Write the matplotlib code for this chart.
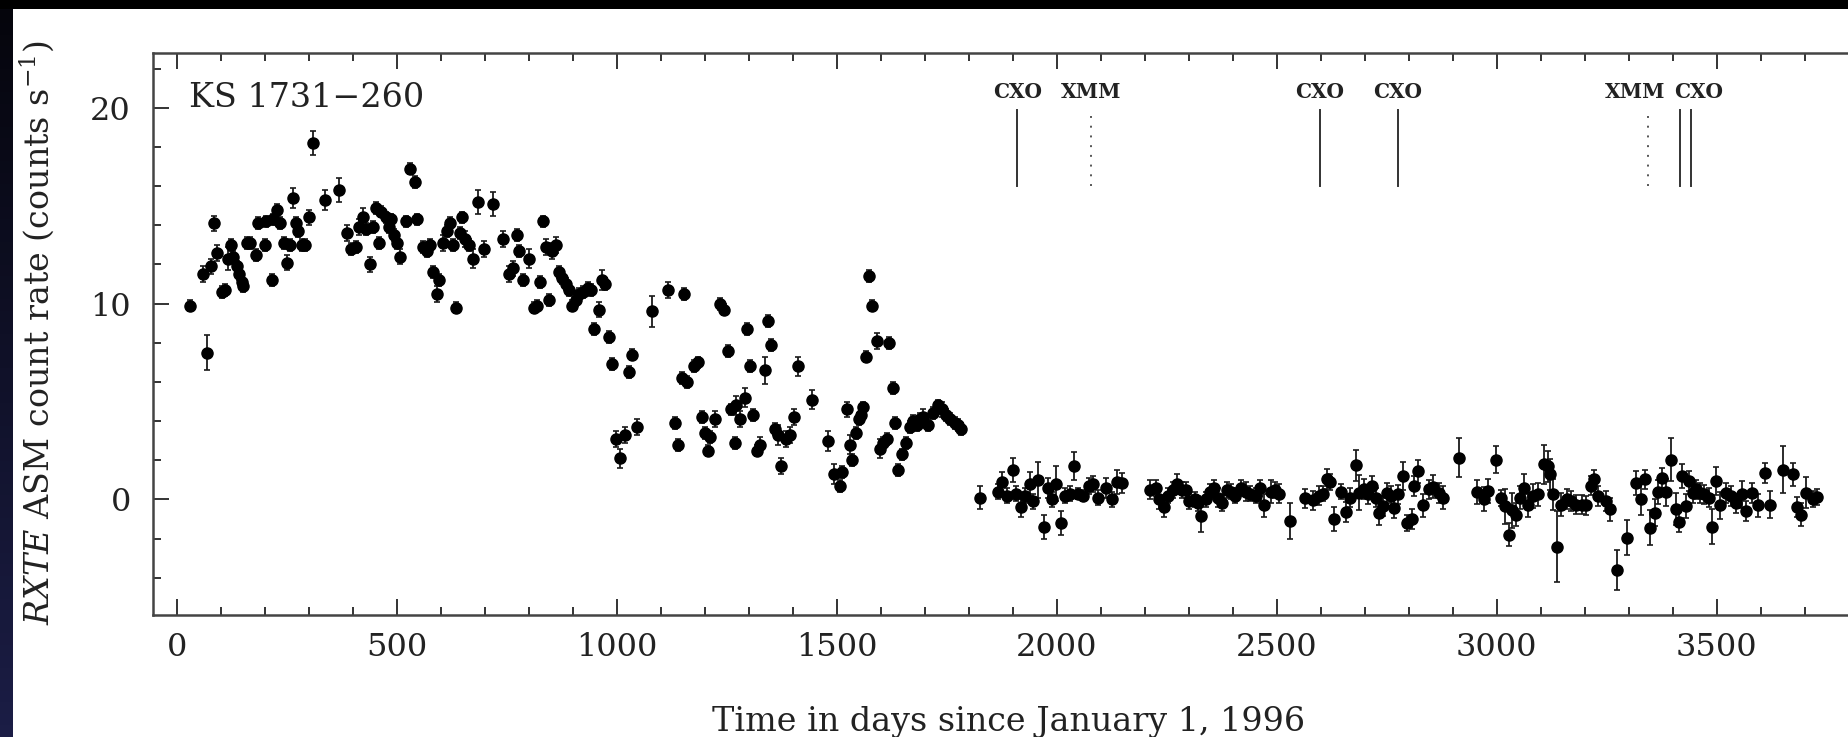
import numpy as np
import matplotlib
matplotlib.use("Agg")
import matplotlib.pyplot as plt
from matplotlib.ticker import MultipleLocator

plt.rcParams['font.family'] = ['DejaVu Serif']
plt.rcParams['mathtext.fontset'] = 'dejavuserif'

# outburst part of the light curve (days since 1996-01-01, counts/s, 1-sigma)
outburst_days = [28, 58, 67, 76, 84, 91, 101, 109, 116, 122, 128, 135, 141, 147, 150, 159, 165, 179, 184, 200,
                 203, 215, 218, 227, 234, 243, 249, 256, 264, 270, 275, 283, 290, 300, 309, 337, 367, 385, 396, 407,
                 413, 422, 430, 438, 445, 453, 459, 464, 474, 481, 487, 494, 500, 506, 521, 530, 540, 545, 559, 567,
                 575, 581, 590, 596, 604, 613, 621, 627, 634, 642, 648, 655, 664, 672, 683, 698, 719, 740, 755, 764,
                 772, 778, 787, 799, 812, 817, 825, 832, 838, 846, 853, 861, 868, 876, 884, 891, 897, 906, 914, 923,
                 933, 940, 948, 958, 965, 973, 982, 988, 997, 1007, 1017, 1027, 1033, 1045, 1079, 1116, 1131, 1139, 1147, 1152,
                 1160, 1175, 1184, 1193, 1201, 1207, 1212, 1222, 1233, 1243, 1252, 1258, 1268, 1271, 1280, 1290, 1296, 1303, 1309, 1318,
                 1326, 1336, 1343, 1351, 1358, 1367, 1373, 1384, 1394, 1403, 1411, 1444, 1479, 1494, 1508, 1512, 1522, 1530, 1535, 1543,
                 1549, 1555, 1560, 1565, 1573, 1579, 1590, 1598, 1605, 1613, 1618, 1627, 1633, 1639, 1649, 1656, 1666, 1673, 1681, 1689,
                 1696, 1707, 1719, 1729, 1738, 1749, 1758, 1768, 1776, 1782]
outburst_rate = [9.9, 11.5, 7.5, 11.9, 14.1, 12.6, 10.6, 10.7, 12.3, 13.0, 12.4, 11.9, 11.5, 11.1, 10.9, 13.1, 13.1, 12.5, 14.1, 13.0,
                 14.2, 11.2, 14.3, 14.8, 14.1, 13.1, 12.1, 13.0, 15.4, 14.1, 13.7, 13.0, 13.0, 14.4, 18.2, 15.3, 15.8, 13.6, 12.8, 12.9,
                 13.9, 14.4, 13.8, 12.0, 13.9, 14.9, 13.1, 14.7, 14.4, 13.9, 14.3, 13.5, 13.1, 12.4, 14.2, 16.9, 16.2, 14.3, 12.9, 12.7,
                 13.0, 11.6, 10.5, 11.2, 13.1, 13.7, 14.1, 13.0, 9.8, 13.6, 14.4, 13.3, 13.0, 12.3, 15.2, 12.8, 15.1, 13.3, 11.5, 11.8,
                 13.5, 12.7, 11.2, 12.3, 9.8, 9.9, 11.1, 14.2, 12.9, 10.2, 12.7, 13.0, 11.6, 11.3, 11.0, 10.7, 9.9, 10.2, 10.5, 10.6,
                 10.8, 10.7, 8.7, 9.7, 11.2, 11.0, 8.3, 6.9, 3.1, 2.1, 3.3, 6.5, 7.4, 3.7, 9.6, 10.7, 3.9, 2.8, 6.2, 10.5,
                 6.0, 6.8, 7.0, 4.2, 3.4, 2.5, 3.2, 4.1, 10.0, 9.7, 7.6, 4.6, 2.9, 4.8, 4.1, 5.2, 8.7, 6.8, 4.3, 2.5,
                 2.8, 6.6, 9.1, 7.9, 3.6, 3.3, 1.7, 3.1, 3.3, 4.2, 6.8, 5.1, 3.0, 1.3, 0.7, 1.4, 4.6, 2.8, 2.0, 3.4,
                 4.1, 4.3, 4.7, 7.3, 11.4, 9.9, 8.1, 2.6, 2.9, 3.1, 8.0, 5.7, 3.9, 1.5, 2.3, 2.9, 3.7, 4.0, 3.8, 4.1,
                 4.2, 3.8, 4.4, 4.8, 4.6, 4.3, 4.1, 3.9, 3.8, 3.6]
outburst_err = [0.3, 0.4, 0.9, 0.4, 0.4, 0.4, 0.3, 0.3, 0.6, 0.3, 0.3, 0.3, 0.3, 0.3, 0.3, 0.3, 0.3, 0.3, 0.3, 0.3,
                0.3, 0.3, 0.3, 0.3, 0.3, 0.3, 0.4, 0.3, 0.5, 0.3, 0.3, 0.3, 0.3, 0.4, 0.6, 0.5, 0.6, 0.4, 0.3, 0.3,
                0.4, 0.5, 0.3, 0.4, 0.3, 0.3, 0.3, 0.3, 0.3, 0.3, 0.3, 0.3, 0.3, 0.4, 0.3, 0.3, 0.3, 0.3, 0.3, 0.3,
                0.3, 0.3, 0.4, 0.3, 0.4, 0.3, 0.3, 0.3, 0.3, 0.3, 0.3, 0.4, 0.3, 0.5, 0.6, 0.4, 0.6, 0.4, 0.4, 0.4,
                0.3, 0.3, 0.3, 0.5, 0.3, 0.3, 0.3, 0.3, 0.4, 0.3, 0.4, 0.4, 0.3, 0.3, 0.3, 0.3, 0.3, 0.3, 0.3, 0.3,
                0.3, 0.3, 0.3, 0.4, 0.5, 0.3, 0.3, 0.3, 0.4, 0.5, 0.4, 0.3, 0.3, 0.4, 0.8, 0.4, 0.3, 0.3, 0.3, 0.3,
                0.3, 0.3, 0.3, 0.3, 0.3, 0.3, 0.3, 0.4, 0.3, 0.3, 0.3, 0.3, 0.3, 0.5, 0.4, 0.5, 0.3, 0.3, 0.3, 0.3,
                0.4, 0.7, 0.3, 0.3, 0.3, 0.5, 0.4, 0.4, 0.4, 0.4, 0.5, 0.5, 0.5, 0.5, 0.3, 0.3, 0.4, 0.5, 0.3, 0.3,
                0.3, 0.3, 0.3, 0.3, 0.3, 0.3, 0.4, 0.5, 0.3, 0.3, 0.3, 0.3, 0.3, 0.3, 0.3, 0.3, 0.3, 0.3, 0.3, 0.3,
                0.4, 0.3, 0.3, 0.3, 0.4, 0.3, 0.3, 0.3, 0.3, 0.3]

# quiescent part
quiescent_days = [1825, 1865, 1875, 1887, 1900, 1908, 1918, 1927, 1938, 1946, 1958, 1971, 1980, 1989, 1998, 2010, 2019, 2029, 2040, 2048,
                  2059, 2074, 2082, 2094, 2112, 2125, 2137, 2147, 2212, 2225, 2233, 2243, 2252, 2263, 2273, 2284, 2294, 2301, 2313, 2320,
                  2327, 2339, 2349, 2358, 2366, 2376, 2386, 2395, 2406, 2418, 2429, 2440, 2452, 2462, 2471, 2486, 2497, 2505, 2531, 2565,
                  2583, 2596, 2605, 2615, 2621, 2631, 2645, 2658, 2667, 2679, 2686, 2698, 2707, 2717, 2726, 2732, 2741, 2751, 2760, 2767,
                  2775, 2787, 2796, 2807, 2812, 2820, 2832, 2845, 2856, 2868, 2878, 2915, 2955, 2970, 2981, 2998, 3009, 3019, 3027, 3035,
                  3044, 3054, 3062, 3072, 3083, 3094, 3107, 3117, 3122, 3127, 3136, 3147, 3159, 3170, 3181, 3193, 3204, 3215, 3221, 3231,
                  3248, 3257, 3274, 3296, 3317, 3327, 3336, 3349, 3359, 3367, 3376, 3384, 3397, 3407, 3414, 3422, 3431, 3437, 3446, 3454,
                  3463, 3472, 3482, 3490, 3499, 3508, 3522, 3533, 3543, 3558, 3567, 3581, 3593, 3611, 3621, 3650, 3674, 3682, 3692, 3704,
                  3720, 3729]
quiescent_rate = [0.1, 0.4, 0.9, 0.2, 1.5, 0.3, -0.4, 0.2, 0.8, -0.1, 1.0, -1.4, 0.6, 0.0, 0.8, -1.2, 0.2, 0.3, 1.7, 0.3,
                  0.2, 0.7, 0.8, 0.1, 0.6, 0.0, 0.9, 0.85, 0.5, 0.6, 0.0, -0.4, 0.2, 0.5, 0.8, 0.5, 0.5, -0.1, 0.0, -0.2,
                  -0.85, 0.0, 0.4, 0.6, 0.1, -0.2, 0.5, 0.4, 0.2, 0.6, 0.4, 0.3, 0.2, 0.6, -0.3, 0.4, 0.5, 0.3, -1.1, 0.05,
                  -0.05, 0.2, 0.3, 1.06, 0.9, -1.0, 0.4, -0.65, 0.1, 1.74, 0.34, 0.54, 0.26, 0.71, 0.1, -0.7, -0.34, 0.34, 0.17, -0.43,
                  0.26, 1.2, -1.2, -1.0, 0.68, 1.44, -0.3, 0.51, 0.65, 0.34, 0.09, 2.13, 0.37, 0.03, 0.42, 2.04, 0.09, -0.34, -1.79, -0.55,
                  -0.77, 0.09, 0.6, -0.3, 0.17, 0.26, 1.8, 1.7, 1.28, 0.26, -2.41, -0.26, 0.03, -0.09, -0.26, -0.26, -0.3, 0.71, 1.02, 0.17,
                  -0.09, -0.51, -3.6, -1.96, 0.85, 0.0, 1.02, -1.45, -0.68, 0.37, 1.1, 0.37, 2.04, -0.48, -1.16, 1.2, -0.34, 0.94, 0.34, 0.51,
                  0.34, 0.26, 0.09, -1.39, 0.94, -0.3, 0.34, 0.17, -0.2, 0.26, -0.6, 0.34, -0.3, 1.36, -0.26, 1.53, 1.28, -0.38, -0.77, 0.34,
                  0.03, 0.14]
quiescent_err = [0.6, 0.4, 0.5, 0.4, 0.6, 0.4, 0.5, 0.4, 0.6, 0.4, 0.9, 0.6, 0.5, 0.4, 0.9, 0.6, 0.4, 0.4, 0.7, 0.3,
                 0.3, 0.4, 0.4, 0.4, 0.5, 0.4, 0.6, 0.5, 0.5, 0.4, 0.5, 0.5, 0.4, 0.4, 0.5, 0.4, 0.4, 0.4, 0.4, 0.4,
                 0.8, 0.4, 0.4, 0.4, 0.5, 0.4, 0.4, 0.4, 0.4, 0.4, 0.5, 0.4, 0.4, 0.4, 0.6, 0.6, 0.4, 0.5, 0.9, 0.5,
                 0.5, 0.5, 0.4, 0.5, 0.4, 0.6, 0.4, 0.5, 0.5, 0.8, 0.9, 0.5, 0.5, 0.5, 0.5, 0.6, 0.5, 0.5, 0.5, 0.5,
                 0.5, 0.7, 0.4, 0.5, 0.5, 0.6, 0.6, 0.5, 0.6, 0.5, 0.6, 1.0, 0.6, 0.6, 0.6, 0.7, 0.4, 0.9, 0.6, 0.9,
                 0.6, 0.6, 0.7, 0.6, 0.6, 0.6, 1.0, 0.8, 0.8, 0.8, 1.8, 0.6, 0.5, 0.5, 0.5, 0.5, 0.5, 0.5, 0.5, 0.5,
                 0.5, 0.6, 1.0, 0.9, 0.6, 0.8, 0.5, 0.9, 0.7, 0.6, 0.5, 0.7, 1.1, 0.8, 0.5, 0.6, 0.6, 0.5, 0.5, 0.5,
                 0.5, 0.5, 0.5, 0.9, 0.7, 0.7, 0.5, 0.5, 0.5, 0.7, 0.5, 0.5, 0.6, 0.5, 0.7, 1.2, 0.6, 0.5, 0.6, 0.8,
                 0.4, 0.4]

# Chandra / XMM-Newton observation markers
obs_line_days = [1910, 2078, 2598, 2775, 3345, 3417, 3441]
obs_line_kind = ['CXO', 'XMM', 'CXO', 'CXO', 'XMM', 'CXO', 'CXO']
obs_label_days = [1910, 2078, 2598, 2775, 3315, 3458]
obs_label_text = ['CXO', 'XMM', 'CXO', 'CXO', 'XMM', 'CXO']

fig = plt.figure(figsize=(18.48, 7.37), dpi=100)
fig.patch.set_facecolor('white')

# dark frame strips of the original screenshot
strip = fig.add_axes([0, 0, 13 / 1848, 1])
strip.imshow(np.linspace(0, 1, 64).reshape(-1, 1), aspect='auto', cmap=matplotlib.colors.LinearSegmentedColormap.from_list('s', ['#05050c', '#1b1d45']), origin='upper')
strip.axis('off')
top = fig.add_axes([0, 1 - 9 / 737, 1, 9 / 737])
top.set_facecolor('black')
top.set_xticks([])
top.set_yticks([])
for s in top.spines.values():
    s.set_visible(False)

# the original is cropped at the right, so the right-hand frame falls just off the canvas
ax = fig.add_axes([153 / 1848, (737 - 615) / 737, 1700 / 1848, (615 - 53) / 737])

days = outburst_days + quiescent_days
rate = outburst_rate + quiescent_rate
err = outburst_err + quiescent_err
ax.errorbar(days, rate, yerr=err, fmt='o', color='black', ecolor='#1a1a1a',
            markersize=8, elinewidth=1.3, capsize=2.3, capthick=1.2)

for d, k in zip(obs_line_days, obs_line_kind):
    if k == 'CXO':
        ax.plot([d, d], [16.0, 19.9], color='#333333', lw=1.4)
    else:
        ax.plot([d, d], [16.0, 19.9], color='#555555', lw=1.4, linestyle=(0, (1, 4)))
for d, t in zip(obs_label_days, obs_label_text):
    ax.text(d, 20.8, t, ha='center', va='center', fontsize=14.5, fontweight='bold', color='#222222')

ax.text(27, 20.5, 'KS 1731\u2212260', ha='left', va='center', fontsize=24, color='#222222')

ax.set_xlim(-55, 3810)
ax.set_ylim(-5.9, 22.8)
ax.xaxis.set_major_locator(MultipleLocator(500))
ax.xaxis.set_minor_locator(MultipleLocator(100))
ax.yaxis.set_major_locator(MultipleLocator(10))
ax.yaxis.set_minor_locator(MultipleLocator(2))
ax.tick_params(which='both', direction='in', top=True, right=False, color='#333333', width=1.4)
ax.tick_params(which='major', length=11.5)
ax.tick_params(which='minor', length=5.8)
ax.tick_params(axis='x', which='major', labelsize=23, pad=12, labelcolor='#222222')
ax.tick_params(axis='y', which='major', labelsize=23, pad=16, labelcolor='#222222')
for s in ax.spines.values():
    s.set_linewidth(1.8)
    s.set_color('#444444')

fig.text(1009 / 1848, (737 - 731) / 737, 'Time in days since January 1, 1996', ha='center', va='baseline',
         fontsize=24, color='#222222')
fig.text(37 / 1848, (737 - 333) / 737, r'$\mathit{RXTE}$ ASM count rate (counts s$^{-1}$)', ha='center', va='center',
         rotation=90, fontsize=24, color='#222222')

fig.savefig('out.png', dpi=100)
